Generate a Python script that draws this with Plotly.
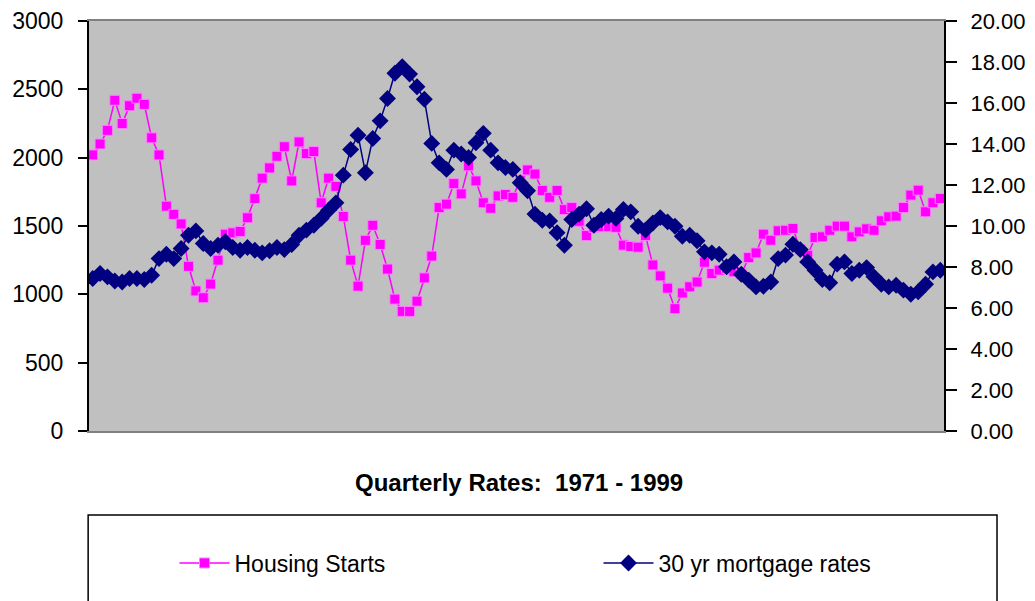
import plotly.graph_objects as go

# ── Colours ────────────────────────────────────────────────────────────────────
PINK = "#FF00FF"
NAVY = "#000080"
PLOT_BG = "#C0C0C0"
BORDER = "#808080"
FONT = "Liberation Sans, Arial, sans-serif"

# ── Data (quarterly, 1971 Q1 – 1999 Q4) ───────────────────────────────────────
years = list(range(1971, 2000))
quarters = [f"{y} Q{q}" for y in years for q in range(1, 5)]

housing_starts = [
    2020, 2100, 2200, 2420, 2250, 2380, 2435, 2390, 2145, 2020,
    1645, 1585, 1515, 1205, 1025, 975, 1075, 1250, 1440, 1450,
    1460, 1560, 1700, 1850, 1925, 2010, 2080, 1830, 2115, 2030,
    2045, 1670, 1850, 1790, 1570, 1250, 1060, 1395, 1505, 1365,
    1185, 965, 875, 875, 950, 1120, 1280, 1635, 1660, 1810,
    1735, 1940, 1830, 1670, 1630, 1720, 1730, 1710, 1835, 1910,
    1880, 1760, 1710, 1760, 1620, 1635, 1535, 1430, 1490, 1495,
    1495, 1490, 1360, 1350, 1345, 1430, 1215, 1135, 1045, 895,
    1010, 1055, 1090, 1235, 1152, 1177, 1190, 1165, 1147, 1269,
    1303, 1440, 1396, 1465, 1469, 1482, 1328, 1286, 1416, 1421,
    1469, 1499, 1499, 1421, 1457, 1479, 1469, 1538, 1567, 1572,
    1635, 1726, 1762, 1604, 1670, 1701,
]

mortgage_rates = [
    7.44, 7.68, 7.52, 7.32, 7.27, 7.44, 7.44, 7.39, 7.60, 8.41,
    8.62, 8.41, 8.90, 9.55, 9.76, 9.15, 8.90, 9.06, 9.23, 8.95,
    8.82, 8.95, 8.82, 8.69, 8.79, 8.95, 8.85, 9.10, 9.55, 9.80,
    10.04, 10.37, 10.77, 11.13, 12.48, 13.73, 14.43, 12.60, 14.27, 15.13,
    16.22, 17.45, 17.77, 17.41, 16.79, 16.18, 14.03, 13.08, 12.76, 13.70,
    13.51, 13.34, 14.06, 14.52, 13.70, 13.08, 12.85, 12.76, 12.11, 11.72,
    10.58, 10.28, 10.25, 9.67, 9.06, 10.32, 10.58, 10.84, 10.04, 10.32,
    10.48, 10.37, 10.81, 10.69, 9.99, 9.80, 10.15, 10.41, 10.20, 9.99,
    9.50, 9.55, 9.28, 8.74, 8.69, 8.62, 8.01, 8.25, 7.65, 7.36,
    7.03, 7.06, 7.27, 8.41, 8.58, 9.11, 8.85, 8.25, 7.84, 7.39,
    7.23, 8.14, 8.25, 7.68, 7.84, 7.97, 7.52, 7.16, 7.03, 7.11,
    6.87, 6.67, 6.79, 7.16, 7.76, 7.84,
]

fig = go.Figure()

fig.add_trace(
    go.Scatter(
        name="Housing Starts",
        x=quarters,
        y=housing_starts,
        mode="lines+markers",
        line=dict(color=PINK, width=1.5),
        marker=dict(symbol="square", size=10, color=PINK,
                    line=dict(color="#FF80FF", width=1)),
    )
)
fig.add_trace(
    go.Scatter(
        name="30 yr mortgage rates",
        x=quarters,
        y=mortgage_rates,
        mode="lines+markers",
        yaxis="y2",
        line=dict(color=NAVY, width=1.5),
        marker=dict(symbol="diamond", size=13, color=NAVY),
    )
)

# legend box (runs past the bottom edge of the picture)
fig.add_shape(
    type="rect", xref="paper", yref="paper",
    x0=-0.001, x1=1.062, y0=-0.2049, y1=-0.45,
    line=dict(color="black", width=1.5), fillcolor="rgba(0,0,0,0)",
)

fig.add_annotation(
    text="<b>Quarterly Rates:  1971 - 1999</b>",
    xref="paper", yref="paper", x=0.503, y=-0.1244,
    xanchor="center", yanchor="middle", showarrow=False,
    font=dict(family=FONT, size=24, color="black"),
)

# the page body adds an 8px offset, so the figure is 8px smaller than the window
fig.update_layout(
    width=1027,
    height=593,
    paper_bgcolor="white",
    plot_bgcolor=PLOT_BG,
    font=dict(family=FONT, size=23, color="black"),
    margin=dict(l=81, r=91, t=13, b=170, autoexpand=False),
    showlegend=True,
    legend=dict(
        orientation="h",
        x=0.100, y=-0.322, xanchor="left", yanchor="middle",
        bgcolor="rgba(0,0,0,0)",
        font=dict(family=FONT, size=23, color="black"),
        itemwidth=50,
        entrywidth=359,
    ),
    xaxis=dict(
        type="category",
        range=[-0.5, len(quarters) - 0.5],
        showticklabels=False,
        ticks="",
        showgrid=False,
        zeroline=False,
        showline=True,
        linecolor=BORDER,
        linewidth=2,
        mirror=True,
    ),
    yaxis=dict(
        range=[0, 3000],
        dtick=500,
        showgrid=False,
        zeroline=False,
        showline=True,
        linecolor="black",
        linewidth=2,
        ticks="outside",
        ticklen=9,
        tickwidth=2,
        tickcolor="black",
        ticklabelstandoff=10,
        automargin=False,
    ),
    yaxis2=dict(
        overlaying="y",
        side="right",
        range=[0, 20],
        dtick=2,
        tickformat=".2f",
        tickfont=dict(family=FONT, size=22, color="black"),
        showgrid=False,
        zeroline=False,
        showline=True,
        linecolor="black",
        linewidth=2,
        ticks="outside",
        ticklen=11,
        tickwidth=2,
        tickcolor="black",
        ticklabelstandoff=9,
        automargin=False,
    ),
)

fig.write_html("out.html")
